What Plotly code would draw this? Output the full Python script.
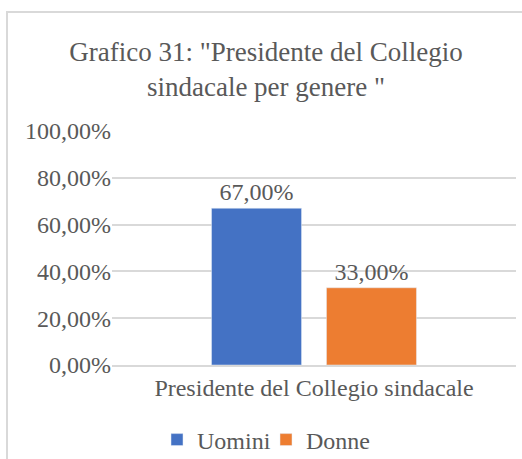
import plotly.graph_objects as go

categories = ["Presidente del Collegio sindacale"]
series_names = ["Uomini", "Donne"]
uomini = [67.00]
donne = [33.00]
colors = ["#4472C4", "#ED7D31"]
tick_vals = [0, 20, 40, 60, 80, 100]
tick_text = ["0,00%", "20,00%", "40,00%", "60,00%", "80,00%", "100,00%"]

FONT = "Liberation Serif"
GRAY = "#595959"
FS = 24

fig = go.Figure()
for name, vals, col in zip(series_names, [uomini, donne], colors):
    fig.add_trace(go.Bar(
        x=categories, y=vals, name=name, marker_color=col,
        texttemplate="%{y:.2f}%", textposition="outside",
        textfont=dict(family=FONT, size=FS, color=GRAY),
        cliponaxis=False,
    ))

fig.update_layout(
    width=522, height=459,
    margin=dict(l=112, r=6, t=131, b=94, autoexpand=False),
    paper_bgcolor="white", plot_bgcolor="white",
    separators=",.",
    barmode="group", bargap=0.431, bargroupgap=0.217,
    font=dict(family=FONT, color=GRAY, size=FS),
    title=dict(
        text='Grafico 31: "Presidente del Collegio<br>sindacale per genere "',
        x=266/522, xanchor="center", xref="container",
        y=1 - 61/459, yanchor="middle", yref="container",
        font=dict(family=FONT, size=27, color=GRAY),
    ),
    legend=dict(
        orientation="h", x=(266-112)/404, xanchor="center",
        y=-(440-365)/234, yanchor="middle",
        font=dict(family=FONT, size=FS, color=GRAY),
        itemwidth=30, traceorder="normal",
        entrywidth=64, entrywidthmode="pixels",
    ),
    showlegend=True,
)
fig.update_yaxes(
    range=[0, 100], tickmode="array", tickvals=tick_vals, ticktext=tick_text,
    showgrid=True, gridcolor="#d9d9d9", gridwidth=2,
    zeroline=False, showline=False, ticks="", ticklen=0, automargin=False,
    tickfont=dict(family=FONT, size=FS, color=GRAY),
)
fig.update_xaxes(
    showline=True, linecolor="#d9d9d9", linewidth=2, automargin=False,
    ticks="", tickfont=dict(family=FONT, size=FS, color=GRAY),
)
# chart-area border (extends beyond the visible window)
fig.add_shape(type="rect", xref="paper", yref="paper",
              x0=(7-112)/404, x1=1.1, y0=-0.5, y1=1 + (131-12)/234,
              line=dict(color="#d9d9d9", width=2), layer="below")

fig.write_html("out.html", config={"displayModeBar": False},
               post_script="document.body.style.margin='0';")
